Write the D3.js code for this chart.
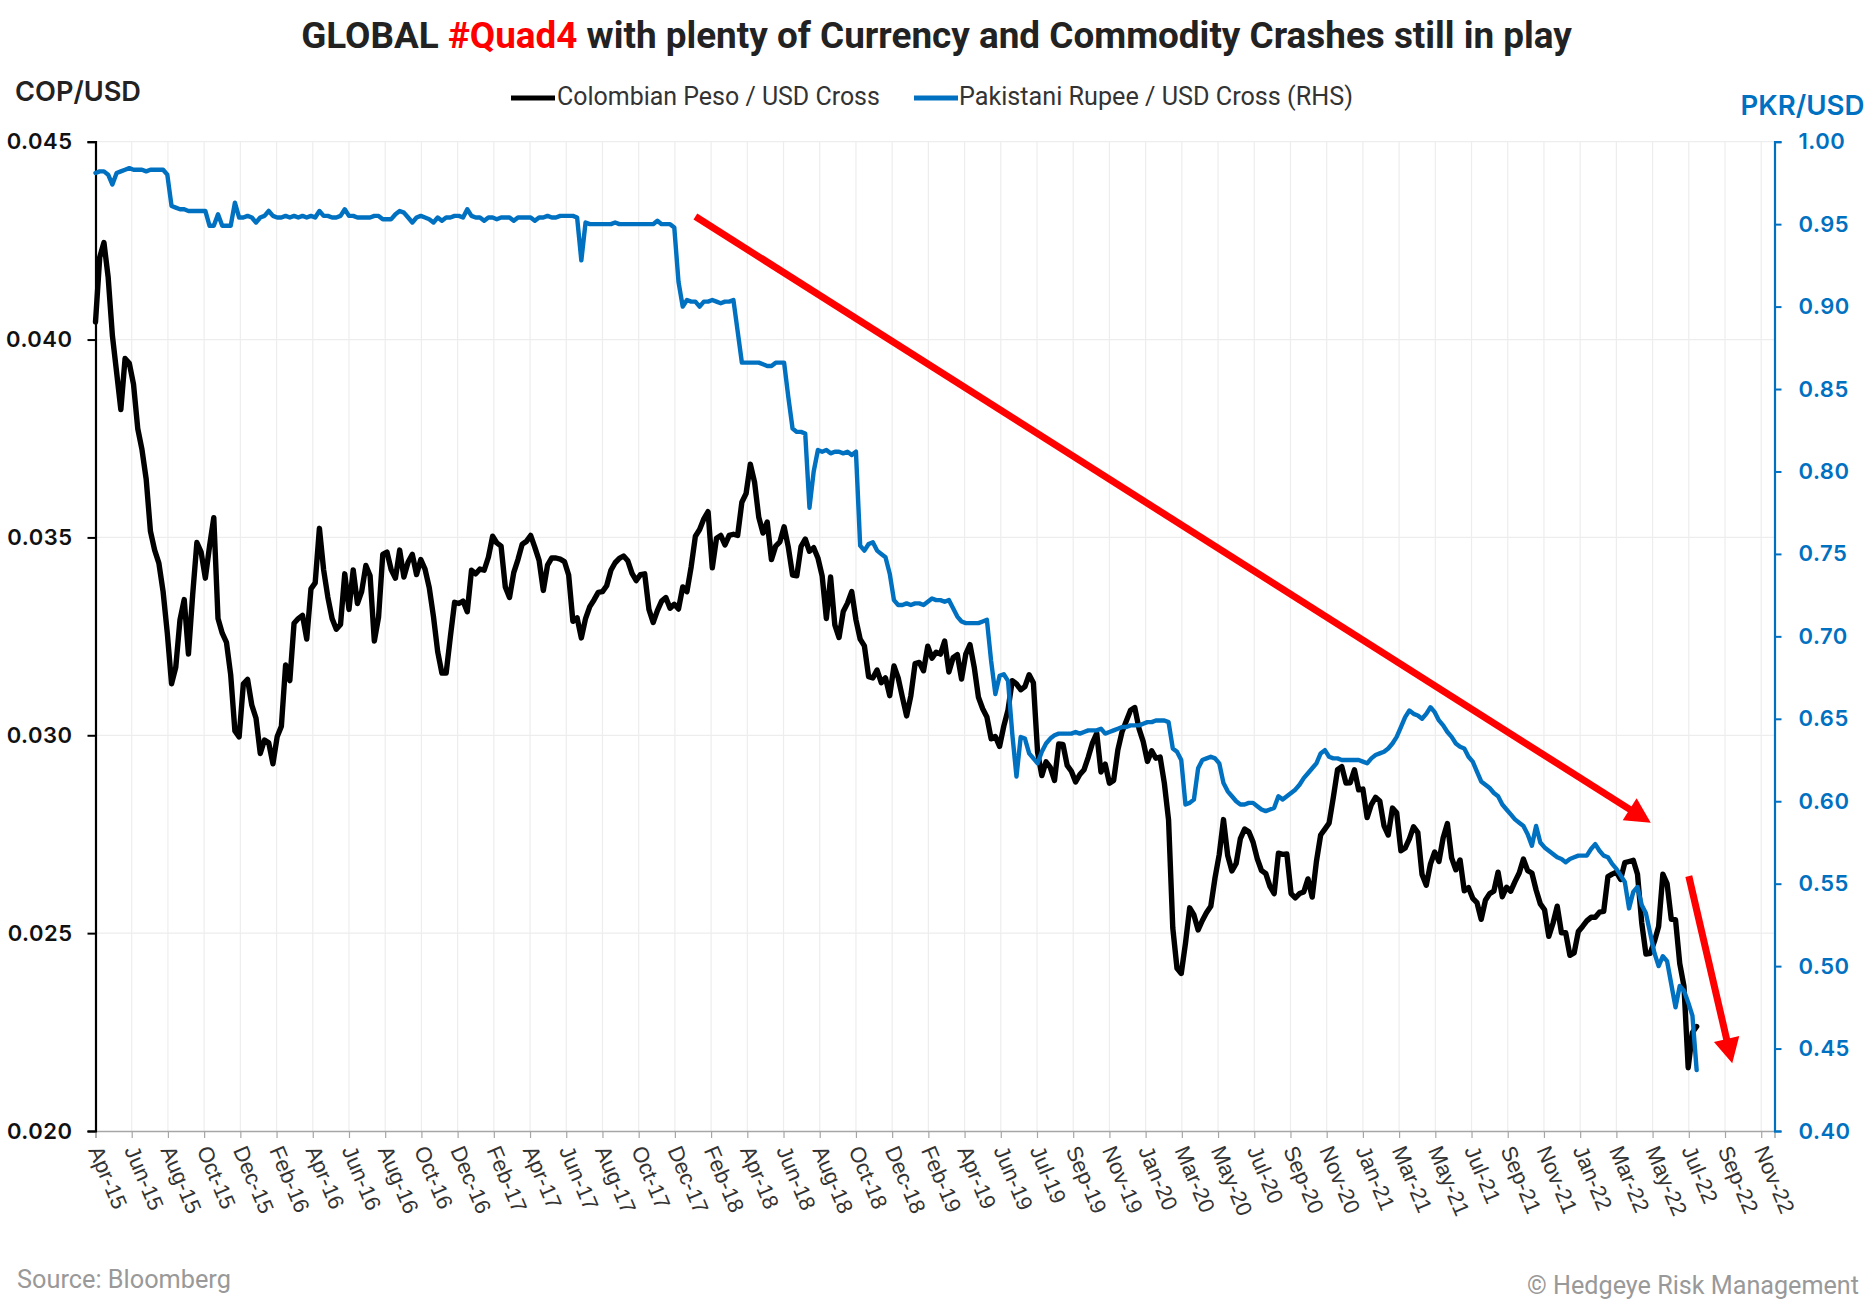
<!DOCTYPE html>
<html><head><meta charset="utf-8">
<script src="https://cdn.jsdelivr.net/npm/d3@7"></script>
<style>body{margin:0;background:#fff}svg{display:block}</style>
</head><body>
<svg id="chart" width="1873" height="1313"></svg>
<script>
// ---------------- DATA ----------------
const seriesStart = "2015-04-23";
const seriesStepDays = 7;
const copValues = [
0.04044,0.04208,0.04245,0.04157,0.04010,0.03917,0.03823,0.03952,0.03940,0.03887,
0.03775,0.03722,0.03647,0.03516,0.03468,0.03435,0.03363,0.03258,0.03130,0.03172,
0.03292,0.03343,0.03205,0.03355,0.03487,0.03463,0.03397,0.03478,0.03550,0.03295,
0.03258,0.03235,0.03153,0.03011,0.02996,0.03130,0.03141,0.03076,0.03043,0.02954,
0.02988,0.02981,0.02928,0.02996,0.03023,0.03178,0.03138,0.03283,0.03295,0.03303,
0.03243,0.03370,0.03385,0.03523,0.03418,0.03349,0.03295,0.03268,0.03280,0.03408,
0.03318,0.03418,0.03333,0.03363,0.03429,0.03403,0.03238,0.03298,0.03457,0.03463,
0.03418,0.03397,0.03468,0.03400,0.03438,0.03457,0.03406,0.03444,0.03420,0.03373,
0.03300,0.03211,0.03157,0.03157,0.03249,0.03336,0.03333,0.03339,0.03312,0.03417,
0.03408,0.03420,0.03417,0.03450,0.03503,0.03486,0.03478,0.03375,0.03348,0.03411,
0.03444,0.03483,0.03490,0.03505,0.03475,0.03442,0.03366,0.03430,0.03448,0.03448,
0.03445,0.03439,0.03405,0.03288,0.03297,0.03246,0.03295,0.03325,0.03342,0.03361,
0.03363,0.03378,0.03417,0.03436,0.03447,0.03453,0.03441,0.03409,0.03391,0.03406,
0.03408,0.03318,0.03285,0.03315,0.03339,0.03348,0.03321,0.03331,0.03319,0.03375,
0.03363,0.03426,0.03503,0.03520,0.03547,0.03565,0.03423,0.03498,0.03505,0.03481,
0.03505,0.03508,0.03505,0.03589,0.03611,0.03685,0.03640,0.03551,0.03511,0.03539,
0.03444,0.03478,0.03489,0.03527,0.03475,0.03405,0.03403,0.03477,0.03496,0.03465,
0.03474,0.03448,0.03403,0.03295,0.03400,0.03279,0.03247,0.03313,0.03334,0.03363,
0.03292,0.03243,0.03226,0.03148,0.03145,0.03165,0.03133,0.03145,0.03100,0.03175,
0.03145,0.03096,0.03049,0.03100,0.03181,0.03184,0.03163,0.03225,0.03195,0.03210,
0.03205,0.03238,0.03160,0.03196,0.03204,0.03142,0.03205,0.03229,0.03172,0.03096,
0.03067,0.03046,0.02991,0.02997,0.02972,0.03023,0.03064,0.03138,0.03130,0.03115,
0.03123,0.03153,0.03133,0.02957,0.02898,0.02933,0.02919,0.02886,0.02978,0.02977,
0.02924,0.02909,0.02882,0.02901,0.02913,0.02945,0.02981,0.03005,0.02907,0.02927,
0.02879,0.02886,0.02963,0.03009,0.03036,0.03063,0.03070,0.03017,0.02984,0.02934,
0.02961,0.02942,0.02945,0.02879,0.02786,0.02513,0.02411,0.02398,0.02474,0.02564,
0.02546,0.02508,0.02532,0.02552,0.02568,0.02640,0.02699,0.02787,0.02696,0.02657,
0.02676,0.02739,0.02763,0.02756,0.02730,0.02688,0.02658,0.02651,0.02618,0.02600,
0.02702,0.02699,0.02700,0.02600,0.02589,0.02600,0.02604,0.02637,0.02591,0.02681,
0.02748,0.02763,0.02778,0.02843,0.02913,0.02921,0.02879,0.02880,0.02913,0.02862,
0.02864,0.02792,0.02825,0.02843,0.02834,0.02771,0.02748,0.02816,0.02804,0.02708,
0.02715,0.02738,0.02769,0.02754,0.02648,0.02621,0.02675,0.02705,0.02681,0.02741,
0.02777,0.02690,0.02660,0.02685,0.02607,0.02615,0.02588,0.02577,0.02535,0.02583,
0.02600,0.02606,0.02654,0.02592,0.02616,0.02606,0.02630,0.02652,0.02687,0.02658,
0.02652,0.02609,0.02574,0.02559,0.02492,0.02525,0.02568,0.02501,0.02501,0.02444,
0.02450,0.02504,0.02517,0.02531,0.02540,0.02540,0.02553,0.02555,0.02643,0.02649,
0.02654,0.02636,0.02678,0.02681,0.02684,0.02649,0.02526,0.02447,0.02449,0.02479,
0.02517,0.02649,0.02625,0.02535,0.02534,0.02423,0.02366,0.02160,0.02249,0.02264
];
const pkrValues = [
0.981,0.982,0.982,0.980,0.974,0.981,0.982,0.983,0.984,0.983,
0.983,0.983,0.982,0.983,0.983,0.983,0.983,0.980,0.961,0.960,
0.959,0.959,0.958,0.958,0.958,0.958,0.958,0.949,0.949,0.956,
0.949,0.949,0.949,0.963,0.954,0.954,0.955,0.954,0.951,0.954,
0.955,0.958,0.955,0.954,0.954,0.955,0.954,0.955,0.954,0.955,
0.954,0.955,0.954,0.958,0.955,0.955,0.954,0.954,0.955,0.959,
0.955,0.955,0.954,0.954,0.954,0.954,0.955,0.955,0.953,0.953,
0.953,0.956,0.958,0.957,0.954,0.951,0.954,0.955,0.954,0.953,
0.951,0.954,0.952,0.954,0.954,0.955,0.955,0.954,0.959,0.955,
0.954,0.954,0.952,0.954,0.954,0.953,0.954,0.954,0.954,0.952,
0.954,0.954,0.954,0.954,0.952,0.954,0.954,0.955,0.954,0.954,
0.955,0.955,0.955,0.955,0.954,0.928,0.951,0.950,0.950,0.950,
0.950,0.950,0.950,0.951,0.950,0.950,0.950,0.950,0.950,0.950,
0.950,0.950,0.950,0.952,0.950,0.950,0.950,0.948,0.915,0.900,
0.904,0.903,0.903,0.900,0.903,0.903,0.904,0.903,0.902,0.903,
0.903,0.904,0.885,0.866,0.866,0.866,0.866,0.866,0.865,0.864,
0.864,0.866,0.866,0.866,0.845,0.826,0.824,0.824,0.823,0.778,
0.800,0.813,0.812,0.813,0.811,0.812,0.812,0.811,0.812,0.810,
0.812,0.755,0.752,0.756,0.757,0.752,0.750,0.748,0.738,0.722,
0.719,0.719,0.720,0.719,0.720,0.720,0.719,0.721,0.723,0.722,
0.722,0.721,0.722,0.717,0.712,0.709,0.708,0.708,0.708,0.708,
0.709,0.710,0.685,0.665,0.676,0.677,0.673,0.641,0.615,0.639,
0.638,0.629,0.626,0.623,0.630,0.635,0.638,0.640,0.641,0.641,
0.641,0.641,0.642,0.641,0.642,0.643,0.643,0.643,0.644,0.641,
0.642,0.643,0.644,0.645,0.645,0.646,0.646,0.646,0.647,0.648,
0.648,0.649,0.649,0.649,0.648,0.632,0.630,0.625,0.598,0.599,
0.601,0.620,0.625,0.626,0.627,0.626,0.623,0.611,0.606,0.603,
0.600,0.598,0.598,0.599,0.599,0.597,0.595,0.594,0.595,0.596,
0.603,0.601,0.603,0.605,0.607,0.610,0.614,0.617,0.620,0.623,
0.629,0.631,0.627,0.626,0.626,0.625,0.625,0.625,0.625,0.625,
0.624,0.623,0.626,0.628,0.629,0.630,0.632,0.635,0.639,0.645,
0.651,0.655,0.653,0.652,0.650,0.653,0.657,0.654,0.649,0.646,
0.642,0.639,0.635,0.633,0.632,0.627,0.624,0.618,0.612,0.610,
0.608,0.605,0.603,0.598,0.595,0.592,0.589,0.587,0.585,0.580,
0.573,0.585,0.575,0.572,0.570,0.568,0.566,0.565,0.563,0.565,
0.566,0.567,0.567,0.567,0.571,0.574,0.570,0.567,0.566,0.562,
0.559,0.555,0.551,0.535,0.545,0.548,0.537,0.532,0.520,0.508,
0.500,0.506,0.503,0.489,0.475,0.488,0.485,0.478,0.470,0.437
];
const xDomain = ["2015-04-23", "2022-12-04"];
const xTickStart = "2015-04-23";
const xTickStepDays = 60;
const xTickLabels = ["Apr-15","Jun-15","Aug-15","Oct-15","Dec-15","Feb-16","Apr-16","Jun-16","Aug-16","Oct-16","Dec-16",
"Feb-17","Apr-17","Jun-17","Aug-17","Oct-17","Dec-17","Feb-18","Apr-18","Jun-18","Aug-18","Oct-18","Dec-18",
"Feb-19","Apr-19","Jun-19","Jul-19","Sep-19","Nov-19","Jan-20","Mar-20","May-20","Jul-20","Sep-20","Nov-20",
"Jan-21","Mar-21","May-21","Jul-21","Sep-21","Nov-21","Jan-22","Mar-22","May-22","Jul-22","Sep-22","Nov-22"];
const leftTicks = [0.020, 0.025, 0.030, 0.035, 0.040, 0.045];
const rightTicks = [0.40,0.45,0.50,0.55,0.60,0.65,0.70,0.75,0.80,0.85,0.90,0.95,1.00];
const leftDomain = [0.020, 0.045];
const rightDomain = [0.40, 1.00];
const seriesNames = ["Colombian Peso / USD Cross", "Pakistani Rupee / USD Cross (RHS)"];
// annotation arrows (date, left-axis value)
const arrowFrom = [["2018-01-11", 0.04311], ["2022-07-15", 0.02644]];
const arrowTo   = [["2022-05-13", 0.02779], ["2022-09-25", 0.02171]];

// ---------------- CHART ----------------
const svg = d3.select("#chart");
const BLUE = "#0070C0";
const M = {left: 95.5, right: 1774.5, top: 141.7, bottom: 1131};
const parse = d3.utcParse("%Y-%m-%d");
const start = parse(seriesStart);
const cop = copValues.map((v, i) => ({date: d3.utcDay.offset(start, i * seriesStepDays), value: v}));
const pkr = pkrValues.map((v, i) => ({date: d3.utcDay.offset(start, i * seriesStepDays), value: v}));
const tickDates = xTickLabels.map((l, i) => d3.utcDay.offset(parse(xTickStart), i * xTickStepDays));

const x = d3.scaleUtc().domain(xDomain.map(parse)).range([M.left, M.right]);
const yL = d3.scaleLinear().domain(leftDomain).range([M.bottom, M.top]);
const yR = d3.scaleLinear().domain(rightDomain).range([M.bottom, M.top]);

// gridlines
const grid = svg.append("g");
grid.selectAll("line.v").data(tickDates.slice(1)).join("line")
  .attr("x1", d => x(d)).attr("x2", d => x(d)).attr("y1", M.top).attr("y2", M.bottom)
  .attr("stroke", "#ededed").attr("stroke-width", 1.2);
grid.selectAll("line.h").data(leftTicks.slice(1)).join("line")
  .attr("x1", M.left).attr("x2", M.right).attr("y1", d => yL(d)).attr("y2", d => yL(d))
  .attr("stroke", "#ededed").attr("stroke-width", 1.2);

// bottom axis
const xAxis = svg.append("g").attr("transform", `translate(0,${M.bottom})`)
  .call(d3.axisBottom(x).tickValues(tickDates).tickSize(7).tickFormat((d, i) => xTickLabels[i]));
xAxis.select(".domain").attr("stroke", "#a6a6a6").attr("stroke-width", 1.5);
xAxis.selectAll(".tick line").attr("stroke", "#a6a6a6").attr("stroke-width", 1.2);
xAxis.selectAll(".tick text")
  .attr("x", 0).attr("y", 0).attr("dy", "0.35em")
  .attr("transform", "translate(-1,16) rotate(67)")
  .style("text-anchor", "start")
  .style("font-family", "'Liberation Sans', Arial, sans-serif")
  .style("font-size", "22px").attr("fill", "#333");

// left axis
const lAxis = svg.append("g").attr("transform", `translate(${M.left},0)`)
  .call(d3.axisLeft(yL).tickValues(leftTicks).tickFormat(d3.format(".3f")).tickSize(8).tickPadding(15));
lAxis.select(".domain").attr("stroke", "#000").attr("stroke-width", 2.2);
lAxis.selectAll(".tick line").attr("stroke", "#000").attr("stroke-width", 2);
lAxis.selectAll(".tick text").style("font-family", "Inter, sans-serif").style("font-weight", 600)
  .style("font-size", "22px").style("letter-spacing", "0.5px").attr("fill", "#111");

// right axis
const rAxis = svg.append("g").attr("transform", `translate(${M.right},0)`)
  .call(d3.axisRight(yR).tickValues(rightTicks).tickFormat(d3.format(".2f")).tickSize(7).tickPadding(17));
rAxis.select(".domain").attr("stroke", BLUE).attr("stroke-width", 2.2);
rAxis.selectAll(".tick line").attr("stroke", BLUE).attr("stroke-width", 2);
rAxis.selectAll(".tick text").style("font-family", "Inter, sans-serif").style("font-weight", 600)
  .style("font-size", "22px").style("letter-spacing", "0.5px").attr("fill", BLUE);

// series
const lineL = d3.line().x(d => x(d.date)).y(d => yL(d.value));
const lineR = d3.line().x(d => x(d.date)).y(d => yR(d.value));
svg.append("path").datum(cop).attr("d", lineL).attr("fill", "none").attr("stroke", "#000")
  .attr("stroke-width", 5.4).attr("stroke-linejoin", "round").attr("stroke-linecap", "round");
svg.append("path").datum(pkr).attr("d", lineR).attr("fill", "none").attr("stroke", BLUE)
  .attr("stroke-width", 4.4).attr("stroke-linejoin", "round").attr("stroke-linecap", "round");

// arrows
arrowFrom.forEach((f, i) => {
  const t = arrowTo[i];
  const p0 = [x(parse(f[0])), yL(f[1])], p1 = [x(parse(t[0])), yL(t[1])];
  const dx = p1[0] - p0[0], dy = p1[1] - p0[1], L = Math.hypot(dx, dy);
  const ux = dx / L, uy = dy / L, px = -uy, py = ux;
  const hl = 25, hw = 13;
  const b = [p1[0] - ux * hl, p1[1] - uy * hl];
  svg.append("line").attr("x1", p0[0]).attr("y1", p0[1]).attr("x2", b[0] + ux * 2).attr("y2", b[1] + uy * 2)
    .attr("stroke", "#ff0000").attr("stroke-width", 7);
  svg.append("polygon")
    .attr("points", [[p1[0], p1[1]], [b[0] + px * hw, b[1] + py * hw], [b[0] - px * hw, b[1] - py * hw]].map(p => p.join(",")).join(" "))
    .attr("fill", "#ff0000");
});

// text helper
function fit(sel, w) {
  const n = sel.node();
  const fs = parseFloat(sel.style("font-size"));
  const len = n.getComputedTextLength();
  sel.style("font-size", (fs * w / len) + "px");
  return sel;
}

// title
const title = svg.append("text").attr("x", 936.5).attr("y", 48).attr("text-anchor", "middle")
  .style("font-family", "Roboto, sans-serif").style("font-weight", 700).style("font-size", "32px").attr("fill", "#222");
title.append("tspan").text("GLOBAL ");
title.append("tspan").attr("fill", "#ff0000").text("#Quad4");
title.append("tspan").text(" with plenty of Currency and Commodity Crashes still in play");
fit(title, 1271);

// axis titles
fit(svg.append("text").attr("x", 15).attr("y", 101).text("COP/USD")
  .style("font-family", "Inter, sans-serif").style("font-weight", 600).style("font-size", "26px").attr("fill", "#222"), 126);
fit(svg.append("text").attr("x", 1740.5).attr("y", 115).text("PKR/USD")
  .style("font-family", "Inter, sans-serif").style("font-weight", 600).style("font-size", "26px").attr("fill", BLUE), 124);

// legend
const legendX = [[511, 557, 323], [914, 959, 394]];
const legendColors = ["#000", BLUE];
seriesNames.forEach((name, i) => {
  const [sx, tx, tw] = legendX[i];
  svg.append("line").attr("x1", sx).attr("x2", sx + 44).attr("y1", 98).attr("y2", 98)
    .attr("stroke", legendColors[i]).attr("stroke-width", 5);
  fit(svg.append("text").attr("x", tx).attr("y", 105).text(name)
    .style("font-family", "Roboto, sans-serif").style("font-size", "21px").attr("fill", "#333"), tw);
});

// footer
fit(svg.append("text").attr("x", 17).attr("y", 1288).text("Source: Bloomberg")
  .style("font-family", "Roboto, sans-serif").style("font-size", "22px").attr("fill", "#999"), 214);
fit(svg.append("text").attr("x", 1859).attr("y", 1294).attr("text-anchor", "end").text("© Hedgeye Risk Management")
  .style("font-family", "Roboto, sans-serif").style("font-size", "22px").attr("fill", "#999"), 332);
</script>
</body></html>
